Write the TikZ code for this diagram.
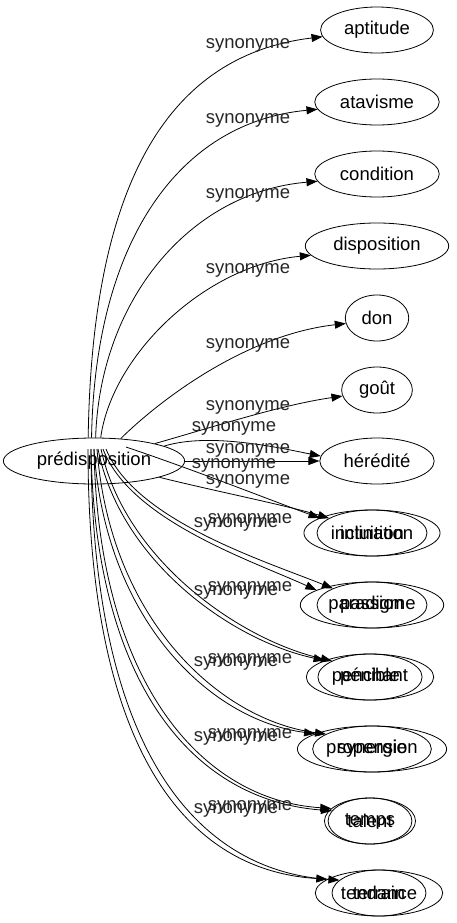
\documentclass[tikz,border=0pt]{standalone}
\usepackage{fontspec}
\setmainfont{Liberation Sans}
\usetikzlibrary{arrows.meta,shapes.geometric}

\begin{document}
\begin{tikzpicture}[x=1pt,y=-1pt,
		every node/.style={font=\fontsize{18.5}{20}\selectfont},
		mot/.style={draw,ellipse,line width=0.8pt,inner xsep=7pt,inner ysep=0pt,minimum height=46pt},
		lien/.style={draw,line width=0.8pt,-{Triangle[length=11pt,width=8pt]}},
		syn/.style={inner sep=0pt,text=black!85}]
	\useasboundingbox (0,0) rectangle (456,923);
	\node[mot] (pre) at (94,461) {prédisposition};
	\node[mot] (aptitude) at (377,30) {aptitude};
	\node[mot] (atavisme) at (377,102) {atavisme};
	\node[mot] (condition) at (377,174) {condition};
	\node[mot] (disposition) at (377,246) {disposition};
	\node[mot] (don) at (377,318) {don};
	\node[mot] (gout) at (377,390) {goût};
	\node[mot] (heredite) at (377,461) {hérédité};
	\node[mot] (inclination) at (372,533) {inclination};
	\node[mot] (intuition) at (372,533) {intuition};
	\node[mot] (paradigme) at (372,605) {paradigme};
	\node[mot] (passion) at (372,605) {passion};
	\node[mot] (penchant) at (370,677) {penchant};
	\node[mot] (penible) at (370,677) {pénible};
	\node[mot] (propension) at (372,749) {propension};
	\node[mot] (synergie) at (372,749) {synergie};
	\node[mot] (talent) at (370,821) {talent};
	\node[mot] (temps) at (370,821) {temps};
	\node[mot] (tendance) at (379,893) {tendance};
	\node[mot] (terrain) at (379,893) {terrain};
	% les liens
	\draw[lien] (pre.104) .. controls (92,180) and (170,55) .. (aptitude.187);
	\draw[lien] (pre.96) .. controls (95,240) and (180,122) .. (atavisme.187);
	\draw[lien] (pre.86) .. controls (100,300) and (190,192) .. (condition.187);
	\draw[lien] (pre.74) .. controls (112,355) and (205,265) .. (disposition.188);
	\draw[lien] (pre.40) .. controls (160,400) and (245,335) .. (don.190);
	\draw[lien] (pre.16) .. controls (210,428) and (280,405) .. (gout.190);
	\draw[lien] (pre.12) .. controls (210,432) and (280,448) .. (heredite.175);
	\draw[lien] (pre) -- (heredite);
	\draw[lien] ([xshift=32pt,yshift=14pt]pre.center) .. controls (200,472) and (270,500) .. (inclination.164);
	\draw[lien] (pre.-14) .. controls (210,490) and (285,505) .. (intuition.161);
	\draw[lien] ([xshift=9pt,yshift=12pt]pre.center) .. controls (130,520) and (250,560) .. (paradigme.165);
	\draw[lien] ([xshift=12pt,yshift=12pt]pre.center) .. controls (135,520) and (262,560) .. (passion.157);
	\draw[lien] ([xshift=4pt,yshift=12pt]pre.center) .. controls (120,560) and (230,640) .. (penchant.160);
	\draw[lien] ([xshift=7pt,yshift=12pt]pre.center) .. controls (125,560) and (240,640) .. (penible.157);
	\draw[lien] ([xshift=0pt,yshift=12pt]pre.center) .. controls (105,620) and (210,720) .. (propension.165);
	\draw[lien] ([xshift=3pt,yshift=12pt]pre.center) .. controls (110,620) and (220,720) .. (synergie.162);
	\draw[lien] ([xshift=-3pt,yshift=12pt]pre.center) .. controls (95,680) and (190,800) .. (talent.165);
	\draw[lien] ([xshift=0pt,yshift=12pt]pre.center) .. controls (98,680) and (200,800) .. (temps.162);
	\draw[lien] ([xshift=-6pt,yshift=12pt]pre.center) .. controls (88,740) and (180,870) .. (tendance.165);
	\draw[lien] ([xshift=-3pt,yshift=12pt]pre.center) .. controls (92,740) and (190,870) .. (terrain.162);
	% les etiquettes
	\foreach \n/\x/\y in {1/248/45,2/248/120,3/248/195,4/248/270,5/248/345,6/248/407,
			7/234/428,8/248/450,9/234/465,10/248/481,11/236/524,12/250/520,
			13/236/592,14/250/588,15/236/663,16/250/660,17/236/738,18/250/735,
			19/236/810,20/250/807}
		\node[syn] (s\n) at (\x,\y) {synonyme};
\end{tikzpicture}
\end{document}
